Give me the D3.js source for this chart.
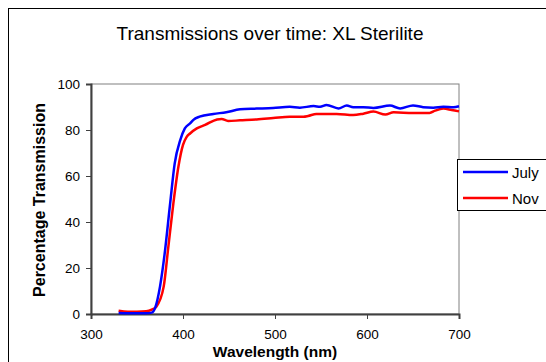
<!DOCTYPE html>
<html>
<head>
<meta charset="utf-8">
<script src="https://cdn.jsdelivr.net/npm/d3@7/dist/d3.min.js"></script>
<style>
  html, body { margin: 0; padding: 0; background: #fff; }
  svg { display: block; font-family: Arial, "Liberation Sans", sans-serif; }
</style>
</head>
<body>
<svg id="chart" width="546" height="362"></svg>
<script>
// ---- Data ----
const title = "Transmissions over time: XL Sterilite";
const xLabel = "Wavelength (nm)";
const yLabel = "Percentage Transmission";
const seriesNames = ["July", "Nov"];
const xTicks = [300, 400, 500, 600, 700];
const yTicks = [0, 20, 40, 60, 80, 100];

const julyWavelength = [330, 340, 350, 360, 366, 370, 375, 380, 386, 391, 397, 402, 408, 411, 418, 433, 447, 462, 480, 498, 516, 527, 542, 549, 556, 569, 578, 585, 596, 607, 625, 636, 650, 661, 672, 683, 694, 700];
const julyValues     = [0.4, 0.3, 0.3, 0.3, 0.6, 3, 11.9, 26, 48, 65.5, 75.6, 80.7, 83, 84.3, 85.8, 87, 87.7, 89, 89.3, 89.6, 90.1, 89.7, 90.4, 90.1, 90.9, 89.4, 90.6, 89.9, 89.9, 89.6, 90.6, 89.4, 90.7, 89.9, 89.7, 90.1, 89.9, 90.3];

const novWavelength = [330, 340, 350, 360, 366, 371, 379, 384, 389.5, 395, 400, 404, 408, 415, 424, 437, 442, 449, 462, 480, 498, 516, 531, 536, 545, 567, 585, 596, 607, 620, 629, 650, 668, 674, 683, 692, 700];
const novValues     = [1.4, 1.0, 1.0, 1.2, 1.9, 3.2, 11.9, 29, 48, 64, 73.5, 77, 78.6, 80.7, 82.2, 84.6, 84.8, 83.9, 84.2, 84.6, 85.2, 85.8, 85.8, 86.1, 87, 87, 86.5, 87.1, 88, 86.7, 87.7, 87.4, 87.4, 88.4, 89.3, 88.7, 88.1];

const seriesColors = ["#0000FF", "#FF0000"];

// ---- Layout ----
const svg = d3.select("#chart");
const plot = { left: 91, right: 459, top: 84, bottom: 314 };

// outer chart border
svg.append("rect")
  .attr("x", 8.5).attr("y", 8.5)
  .attr("width", 600).attr("height", 400)
  .attr("fill", "#fff").attr("stroke", "#000").attr("stroke-width", 1);

const x = d3.scaleLinear().domain([300, 700]).range([plot.left, plot.right]);
const y = d3.scaleLinear().domain([0, 100]).range([plot.bottom, plot.top]);

// plot area border (top/right gray)
svg.append("rect")
  .attr("x", plot.left).attr("y", plot.top)
  .attr("width", plot.right - plot.left).attr("height", plot.bottom - plot.top)
  .attr("fill", "none").attr("stroke", "#808080").attr("stroke-width", 1);

// title
svg.append("text")
  .attr("x", 270).attr("y", 39.5)
  .attr("text-anchor", "middle")
  .attr("font-size", 19)
  .attr("fill", "#000")
  .text(title);

// axes
const xAxis = d3.axisBottom(x).tickValues(xTicks).tickSize(5).tickPadding(10).tickFormat(d3.format("d"));
const yAxis = d3.axisLeft(y).tickValues(yTicks).tickSize(5).tickPadding(6).tickFormat(d3.format("d"));

const gx = svg.append("g").attr("transform", `translate(0,${plot.bottom})`).call(xAxis);
const gy = svg.append("g").attr("transform", `translate(${plot.left},0)`).call(yAxis);
[gx, gy].forEach(g => {
  g.select(".domain").attr("stroke", "#404040").attr("stroke-width", 2);
  g.selectAll(".tick line").attr("stroke", "#404040").attr("stroke-width", 1);
  g.selectAll(".tick text").attr("font-size", 13.5).attr("fill", "#000")
    .attr("font-family", "Arial, 'Liberation Sans', sans-serif");
});

// axis labels
svg.append("text")
  .attr("x", 275).attr("y", 357)
  .attr("text-anchor", "middle")
  .attr("font-size", 15.5).attr("font-weight", "bold")
  .text(xLabel);
svg.append("text")
  .attr("transform", `translate(44.5,${(plot.top + plot.bottom) / 2 + 1}) rotate(-90)`)
  .attr("text-anchor", "middle")
  .attr("font-size", 16).attr("font-weight", "bold")
  .text(yLabel);

// lines
const line = d3.line().x(d => x(d[0])).y(d => y(d[1])).curve(d3.curveMonotoneX);
const series = [
  d3.zip(julyWavelength, julyValues),
  d3.zip(novWavelength, novValues)
];
[1, 0].forEach(i => {
  svg.append("path")
    .datum(series[i])
    .attr("fill", "none")
    .attr("stroke", seriesColors[i])
    .attr("stroke-width", 2.5)
    .attr("stroke-linejoin", "round")
    .attr("d", line);
});

// legend
const lg = svg.append("g");
lg.append("rect")
  .attr("x", 457.5).attr("y", 159.5)
  .attr("width", 120).attr("height", 51)
  .attr("fill", "#fff").attr("stroke", "#000").attr("stroke-width", 1);
seriesNames.forEach((name, i) => {
  const ly = 172 + i * 26;
  lg.append("line")
    .attr("x1", 463).attr("x2", 508)
    .attr("y1", ly).attr("y2", ly)
    .attr("stroke", seriesColors[i]).attr("stroke-width", 2.5);
  lg.append("text")
    .attr("x", 512).attr("y", ly + 5.5)
    .attr("font-size", 15).attr("fill", "#000")
    .text(name);
});
</script>
</body>
</html>
